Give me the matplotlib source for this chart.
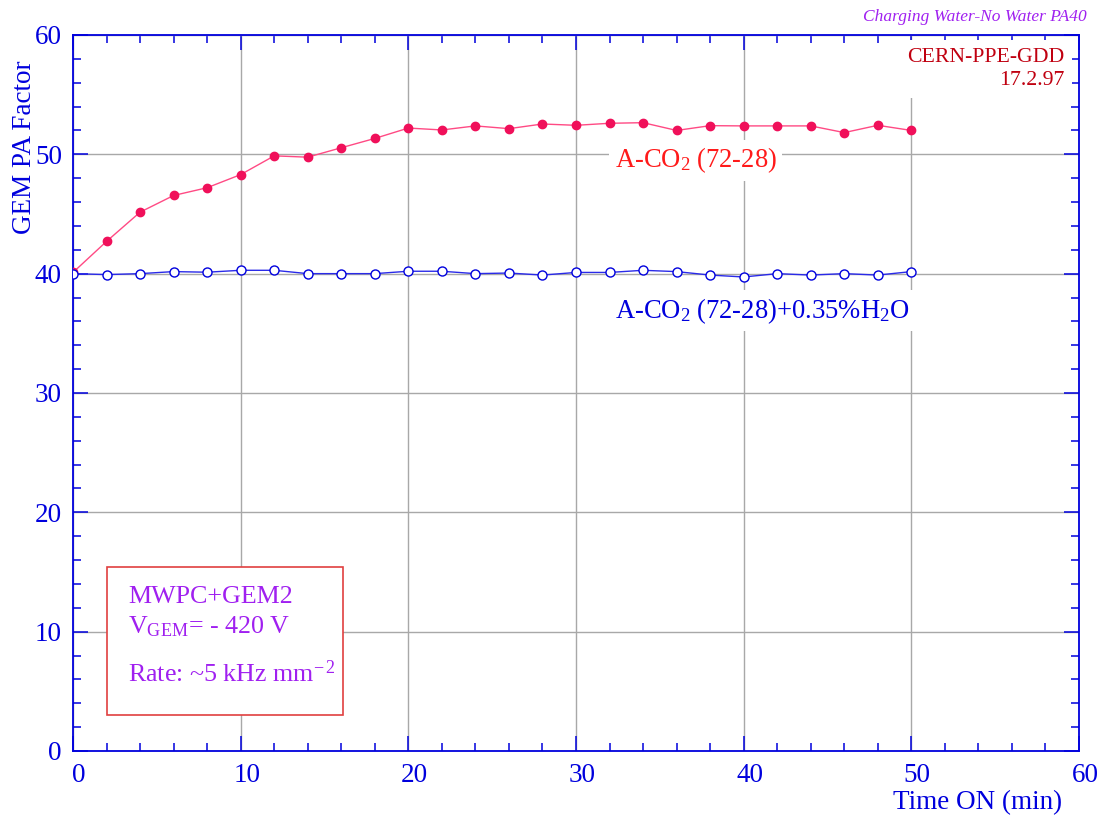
import matplotlib
matplotlib.use("Agg")
import matplotlib.pyplot as plt
from matplotlib.ticker import MultipleLocator
from matplotlib.patches import Rectangle
from matplotlib.transforms import ScaledTranslation

plt.rcParams['font.family'] = ['Liberation Serif', 'DejaVu Serif']
plt.rcParams['mathtext.fontset'] = 'custom'
plt.rcParams['mathtext.rm'] = 'Liberation Serif'
plt.rcParams['mathtext.it'] = 'Liberation Serif:italic'

time_min = [0, 2, 4, 6, 8, 10, 12, 14, 16, 18, 20, 22, 24, 26, 28, 30, 32, 34, 36, 38, 40, 42, 44, 46, 48, 50]
dry = [40.1, 42.7, 45.15, 46.55, 47.2, 48.3, 49.87, 49.76, 50.55, 51.33, 52.2, 52.04, 52.38, 52.15, 52.54,
       52.43, 52.6, 52.65, 52.0, 52.4, 52.38, 52.38, 52.38, 51.82, 52.43, 52.0]
wet = [40.0, 39.92, 40.0, 40.17, 40.12, 40.28, 40.28, 40.0, 40.0, 40.0, 40.2, 40.2, 40.0, 40.05, 39.88,
       40.1, 40.1, 40.28, 40.17, 39.88, 39.72, 40.0, 39.88, 40.0, 39.88, 40.17]

BLUE = '#0000dd'
RED = '#f0105a'
PURPLE = '#a020f0'

fig = plt.figure(figsize=(11.06, 8.21), dpi=100)
ax = fig.add_axes([0.066, 0.0853, 0.9096, 0.8721])
ax.set_xlim(0, 60)
ax.set_ylim(0, 60)

ax.xaxis.set_major_locator(MultipleLocator(10))
ax.xaxis.set_minor_locator(MultipleLocator(2))
ax.yaxis.set_major_locator(MultipleLocator(10))
ax.yaxis.set_minor_locator(MultipleLocator(2))
ax.grid(True, which='major', color='#a8a8a8', linewidth=1.0, zorder=0)
ax.set_axisbelow(True)

for s in ax.spines.values():
    s.set_color(BLUE)
    s.set_linewidth(1.3)
ax.tick_params(which='both', direction='in', top=True, right=True, colors=BLUE,
               labelsize=19.5, labelcolor=BLUE)
ax.tick_params(which='major', length=11, width=1.1)
ax.tick_params(which='minor', length=6, width=1.1)
ax.tick_params(axis='x', pad=9)
ax.tick_params(axis='y', pad=8)
shift = ScaledTranslation(6 / 100, 0, fig.dpi_scale_trans)
for lab in ax.get_xticklabels():
    lab.set_transform(lab.get_transform() + shift)

ax.plot(time_min, dry, '-', color='#ff4a84', linewidth=1.0, zorder=3)
ax.plot(time_min, dry, 'o', color=RED, markersize=6, zorder=4)
ax.plot(time_min, wet, '-', color='#2a2ae8', linewidth=1.0, zorder=3)
ax.plot(time_min, wet, 'o', markerfacecolor='white', markeredgecolor=BLUE,
        markeredgewidth=1.0, markersize=6.5, zorder=4)

fig.text(1062 / 1106, 1 - 803 / 821, 'Time ON (min)', ha='right', va='center',
         fontsize=19.5, color=BLUE)
fig.text(0.011, 1 - 61 / 821, 'GEM PA Factor', rotation=90, ha='left', va='top', fontsize=19.5, color=BLUE)

fig.text(1087 / 1106, 1 - 17 / 821, 'Charging Water-No Water PA40', ha='right', va='center',
         fontsize=12.5, color=PURPLE, style='italic')
ax.text(0.985, 0.982, 'CERN-PPE-GDD\n17.2.97', transform=ax.transAxes, ha='right', va='top',
        fontsize=15.7, color='#c00010', linespacing=1.3,
        bbox=dict(facecolor='white', edgecolor='none', pad=6), zorder=5)

ax.text(32.3, 49.5, r'A-CO$_2$ (72-28)', ha='left', va='center', fontsize=19.2, color='#ff1a1a',
        bbox=dict(facecolor='white', edgecolor='none', pad=4), zorder=5)
ax.text(32.3, 36.9, r'A-CO$_2$ (72-28)+0.35%H$_2$O', ha='left', va='center', fontsize=19.2,
        color=BLUE, bbox=dict(facecolor='white', edgecolor='none', pad=4), zorder=5)

box = Rectangle((2.0, 3.0), 14.1, 12.4, facecolor='white', edgecolor='#e04040', linewidth=1.2, zorder=5)
ax.add_patch(box)
ax.text(3.3, 12.9, 'MWPC+GEM2', fontsize=18.7, color=PURPLE, va='center', zorder=6)
ax.text(3.3, 10.4, r'V$_{\mathrm{GEM}}$= - 420 V', fontsize=18.7, color=PURPLE, va='center', zorder=6)
ax.text(3.3, 6.5, r'Rate: ~5 kHz mm$^{\mathrm{-\,2}}$', fontsize=18.7, color=PURPLE, va='center', zorder=6)

fig.savefig('out.png', dpi=100, facecolor='white')
